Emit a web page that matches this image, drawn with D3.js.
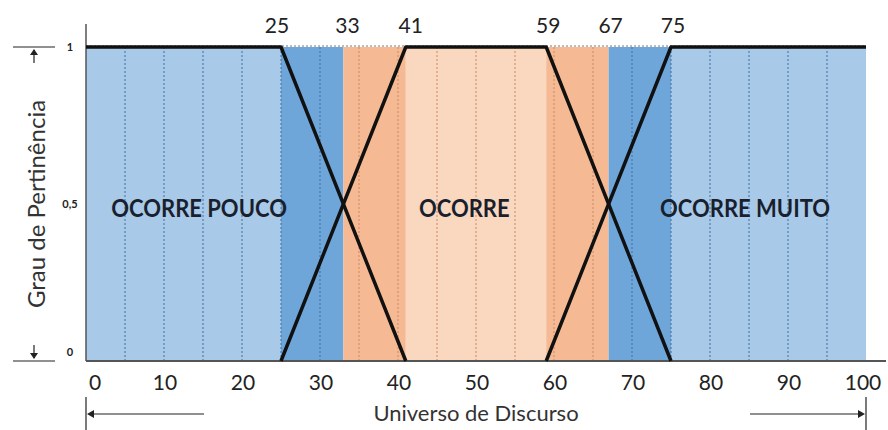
<!DOCTYPE html>
<html lang="pt">
<head>
<meta charset="UTF-8">
<title>Funções de pertinência</title>
<script src="https://d3js.org/d3.v7.min.js"></script>
<style>
  body { margin: 0; background: #fff; }
  text { font-family: Lato, "Open Sans", sans-serif; }
</style>
</head>
<body>
<svg id="chart" width="888" height="430"></svg>
<script>
// faixas de fundo (universo de discurso)
const bandStarts = [0, 25, 33, 41, 59, 67, 75];
const bandEnds   = [25, 33, 41, 59, 67, 75, 100];
const bandColors = ["#a9c9e9", "#6fa6da", "#f5ba94", "#fad8bf", "#f5ba94", "#6fa6da", "#a9c9e9"];

// funções de pertinência (pontos x, grau)
const poucoX = [0, 25, 41];
const poucoY = [1, 1, 0];
const ocorreX = [25, 41, 59, 75];
const ocorreY = [0, 1, 1, 0];
const muitoX = [59, 75, 100];
const muitoY = [0, 1, 1];

const topLabels = [25, 33, 41, 59, 67, 75];
const xTicks = [0, 10, 20, 30, 40, 50, 60, 70, 80, 90, 100];
const gridX = d3.range(5, 100, 5);
const yTicks = [0, 0.5, 1];
const yTickLabels = ["0", "0,5", "1"];

const labels = ["OCORRE POUCO", "OCORRE", "OCORRE MUITO"];
const labelX = [14.5, 48.5, 84.5];

const svg = d3.select("#chart");
const x = d3.scaleLinear().domain([0, 100]).range([86, 866]);
const y = d3.scaleLinear().domain([0, 1]).range([361, 47]);

// fundo
svg.selectAll("rect.band").data(bandStarts)
  .join("rect")
  .attr("class", "band")
  .attr("x", (d) => x(d))
  .attr("y", y(1))
  .attr("width", (d, i) => x(bandEnds[i]) - x(d))
  .attr("height", y(0) - y(1))
  .attr("fill", (d, i) => bandColors[i]);

// linhas verticais pontilhadas
svg.selectAll("line.grid").data(gridX)
  .join("line")
  .attr("class", "grid")
  .attr("x1", (d) => x(d)).attr("x2", (d) => x(d))
  .attr("y1", y(1)).attr("y2", y(0))
  .attr("stroke", (d) => (d > 33 && d < 67) ? "#c98a66" : "#3f6e9e")
  .attr("stroke-width", 1)
  .attr("stroke-dasharray", "2,2");

// linha pontilhada no topo
svg.append("line")
  .attr("x1", x(0)).attr("x2", x(100))
  .attr("y1", y(1) - 1).attr("y2", y(1) - 1)
  .attr("stroke", "#777").attr("stroke-dasharray", "2,2");

// eixos
svg.append("line")
  .attr("x1", x(0)).attr("x2", 886)
  .attr("y1", y(0)).attr("y2", y(0))
  .attr("stroke", "#555").attr("stroke-width", 2);
svg.append("line")
  .attr("x1", x(0)).attr("x2", x(0))
  .attr("y1", 24).attr("y2", y(0))
  .attr("stroke", "#555").attr("stroke-width", 1.5);

// funções
const line = d3.line().x((d) => x(d[0])).y((d) => y(d[1]));
const series = [d3.zip(poucoX, poucoY), d3.zip(ocorreX, ocorreY), d3.zip(muitoX, muitoY)];
svg.selectAll("path.mf").data(series)
  .join("path")
  .attr("class", "mf")
  .attr("d", line)
  .attr("fill", "none")
  .attr("stroke", "#111")
  .attr("stroke-width", 3.5)
  .attr("stroke-linejoin", "round");

// rótulos das regiões (fonte um pouco condensada)
svg.selectAll("text.region").data(labels)
  .join("text")
  .attr("class", "region")
  .attr("transform", (d, i) => `translate(${x(labelX[i])},${y(0.5) + 13}) scale(0.88,1)`)
  .attr("text-anchor", "middle")
  .attr("font-size", 25)
  .attr("font-weight", "bold")
  .attr("fill", "#1a1f2e")
  .text((d) => d);

// números no topo
svg.selectAll("text.top").data(topLabels)
  .join("text")
  .attr("class", "top")
  .attr("x", (d) => x(d) + (d === 25 ? -4 : d === 33 ? 4 : d === 41 ? 5 : 2))
  .attr("y", 33)
  .attr("text-anchor", "middle")
  .attr("font-size", 21)
  .attr("fill", "#222")
  .text((d) => d);

// ticks x
svg.selectAll("text.xt").data(xTicks)
  .join("text")
  .attr("class", "xt")
  .attr("x", (d) => x(d) + (d === 0 ? 9 : d === 100 ? -3 : 1))
  .attr("y", 390)
  .attr("text-anchor", "middle")
  .attr("font-size", 21)
  .attr("fill", "#222")
  .text((d) => d);

// ticks y
svg.selectAll("text.yt").data(yTicks)
  .join("text")
  .attr("class", "yt")
  .attr("x", 70)
  .attr("y", (d) => y(d) + (d === 0 ? -5 : 4))
  .attr("text-anchor", "middle")
  .attr("font-size", 11)
  .attr("font-weight", "bold")
  .attr("fill", "#222")
  .text((d, i) => yTickLabels[i]);

// marcadores à esquerda
const arrowColor = "#222";
svg.append("line").attr("x1", 13).attr("x2", 55).attr("y1", y(1)).attr("y2", y(1)).attr("stroke", arrowColor).attr("stroke-width", 1.2);
svg.append("line").attr("x1", 34).attr("x2", 34).attr("y1", y(1) + 3).attr("y2", y(1) + 16).attr("stroke", arrowColor).attr("stroke-width", 1.2);
svg.append("path").attr("d", `M30,${y(1) + 8} L34,${y(1) + 2} L38,${y(1) + 8} Z`).attr("fill", arrowColor);
svg.append("line").attr("x1", 13).attr("x2", 55).attr("y1", y(0)).attr("y2", y(0)).attr("stroke", arrowColor).attr("stroke-width", 1.2);
svg.append("line").attr("x1", 34).attr("x2", 34).attr("y1", y(0) - 16).attr("y2", y(0) - 3).attr("stroke", arrowColor).attr("stroke-width", 1.2);
svg.append("path").attr("d", `M30,${y(0) - 8} L34,${y(0) - 2} L38,${y(0) - 8} Z`).attr("fill", arrowColor);

svg.append("text")
  .attr("transform", `translate(45,${y(0.5)}) rotate(-90)`)
  .attr("text-anchor", "middle")
  .attr("font-size", 24)
  .attr("fill", "#333")
  .text("Grau de Pertinência");

// setas embaixo
const ay = 414;
svg.append("line").attr("x1", x(0)).attr("x2", x(0)).attr("y1", 397).attr("y2", 430).attr("stroke", arrowColor).attr("stroke-width", 1.2);
svg.append("line").attr("x1", x(0) + 3).attr("x2", 204).attr("y1", ay).attr("y2", ay).attr("stroke", arrowColor).attr("stroke-width", 1.2);
svg.append("path").attr("d", `M${x(0) + 1},${ay} L${x(0) + 8},${ay - 4} L${x(0) + 8},${ay + 4} Z`).attr("fill", arrowColor);
svg.append("line").attr("x1", x(100)).attr("x2", x(100)).attr("y1", 397).attr("y2", 430).attr("stroke", arrowColor).attr("stroke-width", 1.2);
svg.append("line").attr("x1", 750).attr("x2", x(100) - 3).attr("y1", ay).attr("y2", ay).attr("stroke", arrowColor).attr("stroke-width", 1.2);
svg.append("path").attr("d", `M${x(100) - 1},${ay} L${x(100) - 8},${ay - 4} L${x(100) - 8},${ay + 4} Z`).attr("fill", arrowColor);

svg.append("text")
  .attr("x", 476)
  .attr("y", 421)
  .attr("text-anchor", "middle")
  .attr("font-size", 22)
  .attr("fill", "#333")
  .text("Universo de Discurso");
</script>
</body>
</html>
